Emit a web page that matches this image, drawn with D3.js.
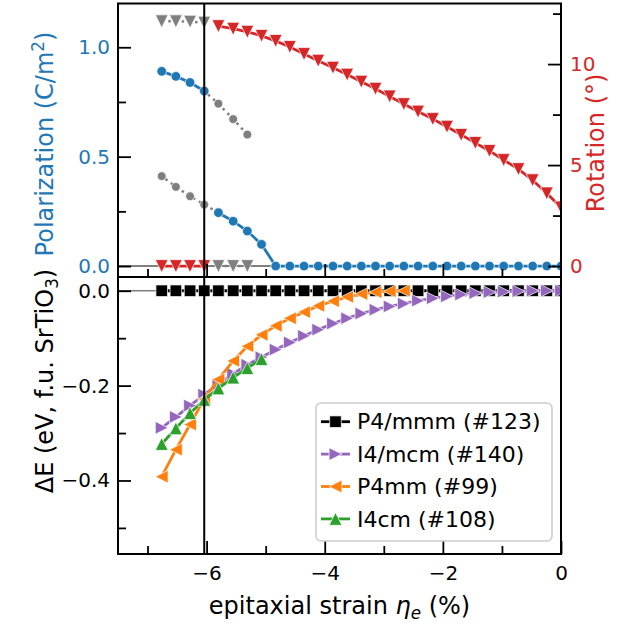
<!DOCTYPE html>
<html>
<head>
<meta charset="utf-8">
<script src="https://cdnjs.cloudflare.com/ajax/libs/d3/7.8.5/d3.min.js"></script>
<style>
    body { margin: 0; background: #fff; }
    svg { display: block; font-family: "DejaVu Sans", sans-serif; }
</style>
</head>
<body>
<script>
// strain grid, index 0 = unstrained, last = most compressive
const strain = [0, -0.24, -0.48, -0.72, -0.97, -1.21, -1.45, -1.69, -1.93, -2.17, -2.42, -2.66, -2.90, -3.14,
    -3.38, -3.62, -3.86, -4.11, -4.35, -4.59, -4.83, -5.07, -5.31, -5.55, -5.80, -6.04, -6.28, -6.52, -6.76]

// polarization (C/m^2)
const polLow = [0, 0, 0, 0, 0, 0, 0, 0, 0, 0, 0, 0, 0, 0, 0, 0, 0, 0, 0, 0, 0, 0.099, 0.160, 0.205, 0.244,
    null, null, null, null]
const polHigh = [null, null, null, null, null, null, null, null, null, null, null, null, null, null, null,
    null, null, null, null, null, null, null, null, null, null, 0.80, 0.839, 0.867, 0.89]
const polMetaLow = [null, null, null, null, null, null, null, null, null, null, null, null, null, null, null,
    null, null, null, null, null, null, null, null, null, 0.244, 0.281, 0.319, 0.362, 0.411]
const polMetaHigh = [null, null, null, null, null, null, null, null, null, null, null, null, null, null, null,
    null, null, null, null, null, null, null, 0.601, 0.672, 0.742, 0.80, null, null, null]

// octahedral rotation (deg)
const rotMain = [2.9, 3.6, 4.25, 4.8, 5.25, 5.7, 6.1, 6.5, 6.9, 7.28, 7.65, 8.02, 8.4, 8.78, 9.13, 9.48, 9.82,
    10.17, 10.5, 10.85, 11.15, 11.4, 11.6, 11.75, 11.88, null, null, null, null]
const rotZero = [null, null, null, null, null, null, null, null, null, null, null, null, null, null, null,
    null, null, null, null, null, null, null, null, null, null, 0, 0, 0, 0]
const rotMetaHigh = [null, null, null, null, null, null, null, null, null, null, null, null, null, null, null,
    null, null, null, null, null, null, null, null, null, null, 12.05, 12.1, 12.12, 12.12]
const rotMetaZero = [null, null, null, null, null, null, null, null, null, null, null, null, null, null, null,
    null, null, null, null, null, null, null, 0, 0, 0, null, null, null, null]

// energies relative to P4/mmm (eV / f.u.)
const eP4mmm = [0, 0, 0, 0, 0, 0, 0, 0, 0, 0, 0, 0, 0, 0, 0, 0, 0, 0, 0, 0, 0, 0, 0, 0, 0, 0, 0, 0, 0]
const eI4mcm = [0, 0, 0, -0.001, -0.002, -0.003, -0.005, -0.008, -0.012, -0.016, -0.021, -0.027, -0.033,
    -0.040, -0.048, -0.058, -0.069, -0.082, -0.095, -0.109, -0.124, -0.140, -0.156, -0.175, -0.197, -0.219,
    -0.242, -0.266, -0.289]
const eP4mm = [null, null, null, null, null, null, null, null, null, null, null, 0, -0.001, -0.003, -0.007,
    -0.013, -0.022, -0.032, -0.045, -0.058, -0.074, -0.093, -0.117, -0.148, -0.187, -0.228, -0.282, -0.335,
    -0.392]
const eI4cm = [null, null, null, null, null, null, null, null, null, null, null, null, null, null, null,
    null, null, null, null, null, null, -0.144, -0.163, -0.183, -0.206, -0.230, -0.258, -0.290, -0.323]

const phaseLabels = ["P4/mmm (#123)", "I4/mcm (#140)", "P4mm (#99)", "I4cm (#108)"]
const transitionStrain = -6.04

const width = 632,
    height = 627
const left = 118,
    right = 561
const topY0 = 3.5, topY1 = 277,
    botY0 = 277, botY1 = 554

const blue = "#1f77b4", red = "#d62728", gray = "#7f7f7f",
    purple = "#9467bd", orange = "#ff7f0e", green = "#2ca02c"

const x = d3.scaleLinear().domain([-7.5, 0]).range([left, right])
const yPol = d3.scaleLinear().domain([-0.05, 1.2]).range([topY1, topY0])
const yRot = d3.scaleLinear().domain([-0.542, 13]).range([topY1, topY0])
const yE = d3.scaleLinear().domain([-0.555, 0.029]).range([botY1, botY0])

const tri = (dir, r) => {
    if (dir === "up") return `M0,${-r}L${-r},${r}L${r},${r}Z`
    if (dir === "down") return `M0,${r}L${-r},${-r}L${r},${-r}Z`
    if (dir === "left") return `M${-r},0L${r},${-r}L${r},${r}Z`
    return `M${r},0L${-r},${-r}L${-r},${r}Z`
}
const square = (r) => `M${-r},${-r}H${r}V${r}H${-r}Z`
const circle = (r) => d3.symbol(d3.symbolCircle, Math.PI * r * r)()

const svg = d3.select("body").append("svg")
    .attr("width", width)
    .attr("height", height)

const defs = svg.append("defs")
defs.append("clipPath").attr("id", "clip-top").append("rect")
    .attr("x", left).attr("y", topY0).attr("width", right - left).attr("height", topY1 - topY0)
defs.append("clipPath").attr("id", "clip-bot").append("rect")
    .attr("x", left).attr("y", botY0).attr("width", right - left).attr("height", botY1 - botY0)

const topG = svg.append("g").attr("clip-path", "url(#clip-top)")
const botG = svg.append("g").attr("clip-path", "url(#clip-bot)")

// reference lines
topG.append("line")
    .attr("x1", left).attr("x2", right)
    .attr("y1", yPol(0)).attr("y2", yPol(0))
    .attr("stroke", gray).attr("stroke-width", 2)
botG.append("line")
    .attr("x1", left).attr("x2", right)
    .attr("y1", yE(0)).attr("y2", yE(0))
    .attr("stroke", gray).attr("stroke-width", 1.6)
svg.append("line")
    .attr("x1", x(transitionStrain)).attr("x2", x(transitionStrain))
    .attr("y1", topY0).attr("y2", botY1)
    .attr("stroke", "#000").attr("stroke-width", 2)

function plotSeries(g, yScale, values, color, marker, dotted) {
    const pts = strain.map((s, i) => [s, values[i]])
    const line = d3.line()
        .defined((d) => d[1] != null)
        .x((d) => x(d[0]))
        .y((d) => yScale(d[1]))
    g.append("path")
        .attr("d", line(pts))
        .attr("fill", "none")
        .attr("stroke", color)
        .attr("stroke-width", dotted ? 2.5 : 2.8)
        .attr("stroke-dasharray", dotted ? "2.5,4.2" : null)
    g.append("g")
        .selectAll("path")
        .data(pts.filter((d) => d[1] != null))
        .join("path")
        .attr("d", marker)
        .attr("transform", (d) => `translate(${x(d[0])},${yScale(d[1])})`)
        .attr("fill", color)
        .attr("stroke", "#fff")
        .attr("stroke-width", 0.7)
}

// top panel: polarization (left) and rotation (right)
plotSeries(topG, yPol, polMetaLow, gray, circle(4.4), true)
plotSeries(topG, yPol, polMetaHigh, gray, circle(4.4), true)
plotSeries(topG, yRot, rotMetaHigh, gray, tri("down", 6.4), true)
plotSeries(topG, yRot, rotMetaZero, gray, tri("down", 6.4), true)
plotSeries(topG, yPol, polLow, blue, circle(4.8), false)
plotSeries(topG, yPol, polHigh, blue, circle(4.8), false)
plotSeries(topG, yRot, rotMain, red, tri("down", 6.4), false)
plotSeries(topG, yRot, rotZero, red, tri("down", 6.4), false)

// bottom panel: energies
const phases = [
    { values: eP4mmm, color: "#000", marker: square(5.8) },
    { values: eI4mcm, color: purple, marker: tri("right", 6.4) },
    { values: eP4mm, color: orange, marker: tri("left", 6.4) },
    { values: eI4cm, color: green, marker: tri("up", 6.4) }
]
phases.forEach((p) => plotSeries(botG, yE, p.values, p.color, p.marker, false))

// axes
const fontSize = 20
function styleAxis(g, color) {
    g.select(".domain").remove()
    g.attr("font-size", fontSize).attr("font-family", "DejaVu Sans, sans-serif")
    g.selectAll("line").attr("stroke", "#000").attr("stroke-width", 1.8)
    g.selectAll("text").attr("fill", color)
}
function addAxis(axisFn, scale, pos, major, minor, fmt, color, pad) {
    svg.append("g")
        .attr("transform", pos)
        .call(axisFn(scale).tickValues(minor).tickSizeInner(-8).tickSizeOuter(0).tickFormat(""))
        .call((g) => styleAxis(g, color))
    svg.append("g")
        .attr("transform", pos)
        .call(axisFn(scale).tickValues(major).tickSizeInner(-13).tickSizeOuter(0).tickPadding(pad).tickFormat(fmt))
        .call((g) => styleAxis(g, color))
}

addAxis(d3.axisBottom, x, `translate(0,${topY1})`, [-6, -4, -2], [-7, -5, -3, -1], () => "", "#000", 8)
addAxis(d3.axisBottom, x, `translate(0,${botY1})`, [-6, -4, -2, 0], [-7, -5, -3, -1], d3.format("d"), "#000", 12)
addAxis(d3.axisLeft, yPol, `translate(${left},0)`, [0, 0.5, 1], [0.25, 0.75], d3.format(".1f"), blue, 8)
addAxis(d3.axisRight, yRot, `translate(${right},0)`, [0, 5, 10], [2.5, 7.5, 12.5], d3.format("d"), red, 9)
addAxis(d3.axisLeft, yE, `translate(${left},0)`, [0, -0.2, -0.4], [-0.1, -0.3, -0.5], d3.format(".1f"), "#000", 8)

// frames
svg.append("rect")
    .attr("x", left).attr("y", topY0).attr("width", right - left).attr("height", topY1 - topY0)
    .attr("fill", "none").attr("stroke", "#000").attr("stroke-width", 2)
svg.append("rect")
    .attr("x", left).attr("y", botY0).attr("width", right - left).attr("height", botY1 - botY0)
    .attr("fill", "none").attr("stroke", "#000").attr("stroke-width", 2)

// axis labels
const labelSize = 24
const polLabel = svg.append("text")
    .attr("transform", "translate(53,144) rotate(-90)")
    .attr("text-anchor", "middle")
    .attr("font-size", labelSize)
    .attr("fill", blue)
polLabel.append("tspan").text("Polarization (C/m")
polLabel.append("tspan").attr("font-size", labelSize * 0.7).attr("dy", -9).text("2")
polLabel.append("tspan").attr("dy", 9).text(")")

svg.append("text")
    .attr("transform", "translate(604,143) rotate(-90)")
    .attr("text-anchor", "middle")
    .attr("font-size", labelSize)
    .attr("fill", red)
    .text("Rotation (°)")

const eLabel = svg.append("text")
    .attr("transform", "translate(53,381) rotate(-90)")
    .attr("text-anchor", "middle")
    .attr("font-size", labelSize)
    .attr("fill", "#000")
eLabel.append("tspan").text("ΔE (eV, f.u. SrTiO")
eLabel.append("tspan").attr("font-size", labelSize * 0.7).attr("dy", 5).text("3")
eLabel.append("tspan").attr("dy", -5).text(")")

const xLabel = svg.append("text")
    .attr("x", (left + right) / 2)
    .attr("y", 614)
    .attr("text-anchor", "middle")
    .attr("font-size", labelSize)
    .attr("fill", "#000")
xLabel.append("tspan").text("epitaxial strain ")
xLabel.append("tspan").attr("font-style", "italic").text("η")
xLabel.append("tspan").attr("font-style", "italic").attr("font-size", labelSize * 0.7).attr("dy", 5).text("e")
xLabel.append("tspan").attr("dy", -5).text(" (%)")

// legend
const legend = svg.append("g").attr("class", "legend")
legend.append("rect")
    .attr("x", 316).attr("y", 403)
    .attr("width", 236).attr("height", 138)
    .attr("rx", 5)
    .attr("fill", "#fff").attr("fill-opacity", 0.8)
    .attr("stroke", "#cccccc").attr("stroke-width", 1.5)

const legendItems = legend.selectAll("g.legend-item")
    .data(phases)
    .join("g")
    .attr("class", "legend-item")
    .attr("transform", (d, i) => `translate(0,${421.7 + i * 32.4})`)
legendItems.append("line")
    .attr("x1", 321).attr("x2", 350)
    .attr("stroke", (d) => d.color).attr("stroke-width", 2.8)
legendItems.append("path")
    .attr("d", (d) => d.marker)
    .attr("transform", "translate(335.5,0)")
    .attr("fill", (d) => d.color)
    .attr("stroke", "#fff").attr("stroke-width", 0.7)
legendItems.append("text")
    .attr("x", 357)
    .attr("dy", "0.35em")
    .attr("font-size", 22)
    .text((d, i) => phaseLabels[i])
</script>
</body>
</html>
